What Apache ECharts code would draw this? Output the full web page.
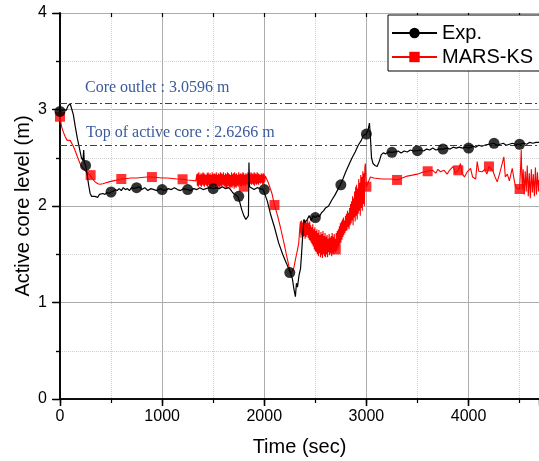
<!DOCTYPE html>
<html><head><meta charset="utf-8">
<script src="https://cdn.jsdelivr.net/npm/echarts@6/dist/echarts.min.js"></script>
<style>html,body{margin:0;padding:0;background:#fff}#c{width:539px;height:461px}</style>
</head><body><div id="c"></div>
<script>
// ---- Data ----
const xTickLabels = ['0', '1000', '2000', '3000', '4000'];
const yTickLabels = ['0', '1', '2', '3', '4'];

const coreOutlet = 3.0596;
const topActiveCore = 2.6266;

const expTime = [0,20,40,60,80,100,115,130,150,170,190,210,225,232,238,250,265,280,295,310,325,340,355,370,385,400,420,440,460,480,500,520,540,560,580,600,620,640,660,680,700,720,750,780,800,830,860,890,920,950,980,1000,1030,1060,1090,1120,1150,1180,1210,1250,1280,1310,1340,1370,1400,1430,1460,1500,1530,1560,1590,1620,1650,1670,1690,1710,1740,1760,1780,1800,1820,1835,1845,1850,1856,1870,1900,1930,1960,1990,2005,2030,2060,2100,2140,2180,2220,2250,2275,2290,2305,2315,2325,2340,2355,2365,2372,2380,2390,2400,2420,2440,2460,2480,2500,2520,2540,2560,2580,2600,2630,2660,2690,2720,2745,2770,2800,2830,2860,2890,2920,2950,2970,2997,3015,3030,3040,3050,3065,3085,3105,3125,3145,3165,3190,3215,3252,3280,3310,3340,3370,3400,3430,3460,3497,3530,3560,3590,3620,3650,3680,3710,3752,3790,3820,3850,3880,3910,3940,3970,4003,4040,4070,4100,4130,4160,4200,4248,4280,4310,4340,4370,4400,4430,4460,4500,4540,4570,4600,4630,4660,4690];
const expLevel = [2.98,2.99,3.00,2.99,3.04,3.06,3.04,2.95,2.82,2.70,2.60,2.50,2.47,2.58,2.45,2.42,2.33,2.22,2.13,2.10,2.12,2.10,2.11,2.09,2.12,2.11,2.13,2.12,2.14,2.13,2.145,2.15,2.17,2.16,2.18,2.16,2.19,2.17,2.18,2.16,2.19,2.18,2.19,2.20,2.17,2.19,2.16,2.18,2.17,2.16,2.18,2.17,2.16,2.18,2.17,2.19,2.17,2.16,2.18,2.17,2.16,2.18,2.17,2.19,2.17,2.18,2.19,2.18,2.19,2.18,2.20,2.18,2.19,2.17,2.14,2.12,2.10,2.04,1.96,1.90,1.86,1.84,1.90,2.45,2.20,2.18,2.17,2.19,2.18,2.17,2.17,2.05,1.92,1.78,1.62,1.50,1.40,1.32,1.25,1.14,1.06,1.20,1.16,1.28,1.35,1.50,1.62,1.75,1.86,1.83,1.86,1.90,1.85,1.90,1.88,1.90,1.89,1.93,1.95,1.98,2.00,2.06,2.11,2.17,2.22,2.28,2.36,2.43,2.50,2.56,2.63,2.68,2.73,2.745,2.78,2.86,2.70,2.50,2.44,2.42,2.41,2.46,2.53,2.55,2.54,2.56,2.556,2.56,2.57,2.55,2.57,2.56,2.58,2.57,2.573,2.58,2.57,2.59,2.58,2.60,2.58,2.59,2.59,2.60,2.59,2.61,2.60,2.61,2.60,2.61,2.60,2.62,2.61,2.63,2.62,2.63,2.64,2.65,2.63,2.64,2.65,2.63,2.64,2.65,2.64,2.64,2.65,2.64,2.66,2.65,2.66,2.66];

const expMarkerTime = [0,250,500,750,1000,1250,1500,1750,2000,2250,2500,2750,3000,3250,3500,3750,4000,4250,4500];
const expMarkerLevel = [2.98,2.42,2.145,2.19,2.17,2.17,2.18,2.10,2.17,1.31,1.88,2.22,2.745,2.556,2.573,2.59,2.60,2.65,2.64];

const marsTime = [0,16,35,50,70,82,100,110,130,150,170,196,220,250,270,294,320,343,370,392,420,450,480,520,560,600,650,700,750,800,850,900,950,1000,1050,1100,1150,1200,1250,1300,1330,
1340,1345,1350,1355,1360,1365,1370,1375,1380,1385,1390,1395,1400,1405,1410,1415,1420,1425,1430,1435,1440,1445,1450,1455,1460,1465,1470,1475,1480,1485,1490,1495,1500,1505,1510,1515,1520,1525,1530,1535,1540,1545,1550,1555,1560,1565,1570,1575,1580,1585,1590,1595,1600,1605,1610,1615,1620,1625,1630,1635,1640,1645,1650,1655,1660,1665,1670,1675,1680,1685,1690,1695,1700,1705,1710,1715,1720,1725,1730,1735,1740,1745,1750,1755,1760,1765,1770,1775,1780,1785,1790,1795,1800,1805,1810,1815,1820,1825,1830,1835,1840,1845,1850,1855,1860,1865,1870,1875,1880,1885,1890,1895,1900,1905,1910,1915,1920,1925,1930,1935,1940,1945,1950,1955,1960,1965,1970,1975,1980,1985,1990,1995,2000,2005,2010,
2020,2042,2075,2100,2130,2157,2190,2222,2245,2262,2271,2290,2304,2320,2337,2350,
2355,2360,2365,2370,2375,2380,2385,2390,2395,2400,2405,2410,2415,2420,2425,2430,2435,2440,2445,2450,2455,2460,2465,2470,2475,2480,2485,2490,2495,2500,2505,2510,2515,2520,2525,2530,2535,2540,2545,2550,2555,2560,2565,2570,2575,2580,2585,2590,2595,2600,2605,2610,2615,2620,2625,2630,2635,2640,2645,2650,2655,2660,2665,2670,2675,2680,2685,2690,2695,2700,2705,2710,2715,2720,2725,2730,2735,2740,2745,2750,2755,2760,2765,2770,2775,2780,2785,2790,2795,2800,2805,2810,2815,2820,2825,2830,2835,2840,2845,2850,2855,2860,2865,2870,2875,2880,2885,2890,2895,2900,2905,2910,2915,2920,2925,2930,2935,2940,2945,2950,2955,2960,2965,2970,2975,2980,2985,2990,3000,
3039,3072,3150,3235,3300,3350,3400,3450,3497,3550,3600,3650,3680,3700,3725,3760,3790,3814,3850,3870,3900,3921,3935,3960,3985,4020,4040,4052,4070,4085,4100,4134,4160,4180,4200,4216,4240,4260,4281,4300,4320,4346,4360,4380,4400,4428,4445,4460,4480,
4500,4510,4516,4525,4535,4545,4555,4565,4575,4585,4595,4605,4615,4625,4635,4645,4655,4665,4675,4685,4690];
const marsLevel = [2.925,2.82,2.76,2.72,2.68,2.66,2.68,2.67,2.62,2.57,2.51,2.44,2.40,2.36,2.34,2.32,2.28,2.25,2.23,2.225,2.23,2.24,2.25,2.26,2.27,2.28,2.285,2.29,2.29,2.295,2.30,2.30,2.295,2.29,2.29,2.285,2.28,2.277,2.27,2.265,2.26,
2.33,2.21,2.34,2.20,2.35,2.22,2.32,2.21,2.34,2.20,
2.33,2.22,2.35,2.21,2.34,2.20,2.33,2.22,2.32,2.21,
2.34,2.20,2.35,2.22,2.33,2.21,2.34,2.19,2.32,2.21,
2.35,2.20,2.33,2.22,2.34,2.21,2.33,2.20,2.35,2.22,
2.32,2.21,2.34,2.20,2.33,2.19,2.35,2.21,2.34,2.20,
2.33,2.22,2.35,2.21,2.32,2.20,2.34,2.19,2.33,2.18,
2.35,2.21,2.34,2.20,2.33,2.18,2.32,2.20,2.35,2.19,
2.33,2.21,2.34,2.18,2.35,2.20,2.33,2.19,2.34,2.21,
2.32,2.20,2.35,2.22,2.33,2.21,2.34,2.20,2.33,2.22,
2.35,2.21,2.34,2.22,2.32,2.21,2.34,2.23,2.33,2.22,
2.35,2.21,2.34,2.22,2.33,2.23,2.35,2.22,2.34,2.23,
2.33,2.22,2.35,2.21,2.34,2.23,2.33,2.22,2.35,2.23,
2.34,2.22,2.33,2.24,2.32,2.23,2.34,2.24,2.33,2.22,
2.34,2.23,2.33,2.25,2.31,
2.30,2.235,2.13,2.01,1.90,1.785,1.63,1.47,1.36,1.30,1.285,1.36,1.44,1.52,1.61,1.80,
1.84,1.67,1.85,1.70,1.83,1.68,1.86,1.69,1.84,1.66,
1.85,1.68,1.83,1.70,1.86,1.67,1.82,1.65,1.84,1.64,
1.80,1.62,1.78,1.60,1.81,1.58,1.76,1.55,1.78,1.53,
1.74,1.52,1.76,1.50,1.72,1.48,1.75,1.51,1.70,1.47,
1.73,1.49,1.71,1.46,1.74,1.50,1.69,1.48,1.72,1.47,
1.68,1.50,1.70,1.47,1.66,1.52,1.71,1.49,1.67,1.51,
1.69,1.48,1.72,1.52,1.68,1.50,1.71,1.53,1.66,1.52,
1.72,1.54,1.74,1.56,1.76,1.58,1.79,1.60,1.82,1.62,
1.84,1.65,1.86,1.68,1.88,1.70,1.85,1.72,1.90,1.74,
1.92,1.75,1.95,1.78,1.93,1.76,1.98,1.80,2.02,1.82,
2.05,1.85,2.10,1.80,2.08,1.88,2.15,1.84,2.20,1.90,
2.22,1.86,2.18,1.92,2.28,1.95,2.24,1.90,2.32,1.98,
2.30,1.95,2.36,2.02,2.34,2.00,2.40,2.44,2.20,
2.30,2.29,2.28,2.28,2.27,2.29,2.31,2.32,2.33,2.35,2.36,2.37,2.34,2.38,2.355,2.37,2.33,2.37,2.41,2.34,2.37,2.44,2.34,2.30,2.35,2.39,2.30,2.32,2.28,2.46,2.36,2.355,2.38,2.33,2.41,2.41,2.36,2.30,2.25,2.32,2.40,2.51,2.30,2.33,2.26,2.39,2.28,2.20,2.18,
2.176,2.40,2.58,2.17,2.38,2.12,2.36,2.15,2.42,2.10,2.34,2.08,2.38,2.14,2.33,2.10,2.40,2.12,2.35,2.15,2.27];

const marsMarkerTime = [0,300,600,900,1200,1500,1800,2100,2400,2700,3000,3300,3600,3900,4200,4500];
const marsMarkerLevel = [2.925,2.32,2.28,2.30,2.277,2.27,2.20,2.01,1.77,1.55,2.20,2.27,2.36,2.37,2.41,2.176];

// ---- Chart ----
const pair = (t, v) => t.map((x, i) => [x, v[i]]);
const chart = echarts.init(document.getElementById('c'), null, {renderer: 'canvas'});
const FONT = '"Liberation Sans", Arial, sans-serif';
const GRID = {left: 60, right: 0, top: 13, bottom: 62, containLabel: false, outerBoundsMode: 'none'};
const XMAX = 4690;

const option = {
  animation: false,
  backgroundColor: '#fff',
  textStyle: {fontFamily: FONT, color: '#000'},
  grid: [Object.assign({}, GRID), Object.assign({}, GRID)],
  legend: {
    data: ['Exp.', 'MARS-KS'],
    orient: 'vertical',
    left: 388, top: 15,
    itemWidth: 45, itemHeight: 13, itemGap: 4,
    padding: [8, 8, 4, 3],
    borderColor: '#000', borderWidth: 1, borderRadius: 0,
    backgroundColor: '#fff',
    textStyle: {fontSize: 20, color: '#000', fontFamily: FONT},
    selectedMode: false
  },
  xAxis: [
    { // main bottom axis, major 1000
      gridIndex: 0, type: 'value', position: 'bottom', min: 0, max: XMAX, interval: 1000,
      name: 'Time (sec)', nameLocation: 'middle', nameGap: 38, nameMoveOverlap: false,
      nameTextStyle: {fontSize: 20, color: '#000', fontFamily: FONT},
      axisLine: {lineStyle: {color: '#000', width: 1.6}},
      axisTick: {inside: false, length: 7, lineStyle: {color: '#000', width: 1.3}},
      axisLabel: {fontSize: 16, color: '#000', margin: 10, showMaxLabel: false,
        formatter: v => (xTickLabels.indexOf(String(v)) >= 0 ? String(v) : '')},
      splitLine: {show: true, lineStyle: {color: '#acacac', width: 1}}
    },
    { // top frame axis, major 1000
      gridIndex: 0, type: 'value', position: 'top', min: 0, max: XMAX, interval: 1000,
      axisLine: {lineStyle: {color: '#000', width: 1.6}},
      axisTick: {inside: true, length: 7, lineStyle: {color: '#000', width: 1.3}},
      axisLabel: {show: false}, splitLine: {show: false}
    },
    { // minor 500 bottom
      gridIndex: 1, type: 'value', position: 'bottom', min: 0, max: XMAX, interval: 500,
      axisLine: {show: false},
      axisTick: {inside: false, length: 4, lineStyle: {color: '#000', width: 1.2}},
      axisLabel: {show: false},
      splitLine: {show: true, lineStyle: {color: ['rgba(0,0,0,0)', '#cfcfcf'], type: 'dotted', width: 1}}
    },
    { // minor 500 top
      gridIndex: 1, type: 'value', position: 'top', min: 0, max: XMAX, interval: 500,
      axisLine: {show: false},
      axisTick: {inside: true, length: 4, lineStyle: {color: '#000', width: 1.2}},
      axisLabel: {show: false}, splitLine: {show: false}
    }
  ],
  yAxis: [
    {
      gridIndex: 0, type: 'value', position: 'left', min: 0, max: 4, interval: 1,
      name: 'Active core level (m)', nameLocation: 'middle', nameGap: 27, nameMoveOverlap: false,
      nameTextStyle: {fontSize: 20, color: '#000', fontFamily: FONT},
      axisLine: {lineStyle: {color: '#000', width: 1.6}},
      axisTick: {inside: false, length: 8, lineStyle: {color: '#000', width: 1.3}},
      minorTick: {show: true, splitNumber: 2, length: 4, lineStyle: {color: '#000', width: 1.2}},
      axisLabel: {fontSize: 16, color: '#000', margin: 13,
        formatter: v => (yTickLabels.indexOf(String(v)) >= 0 ? String(v) : '')},
      splitLine: {show: true, lineStyle: {color: '#acacac', width: 1}},
      minorSplitLine: {show: true, lineStyle: {color: '#cfcfcf', type: 'dotted', width: 1}}
    },
    {
      gridIndex: 0, type: 'value', position: 'right', min: 0, max: 4, interval: 1,
      axisLine: {lineStyle: {color: '#000', width: 1.6}},
      axisTick: {inside: true, length: 7, lineStyle: {color: '#000', width: 1.3}},
      minorTick: {show: true, splitNumber: 2, length: 4, lineStyle: {color: '#000', width: 1.2}},
      axisLabel: {show: false}, splitLine: {show: false}
    },
    {gridIndex: 1, type: 'value', min: 0, max: 4, show: false}
  ],
  series: [
    {
      name: 'MARS-KS', type: 'line', xAxisIndex: 0, yAxisIndex: 0,
      data: pair(marsTime, marsLevel),
      symbol: 'rect', symbolSize: 10, showSymbol: false,
      lineStyle: {color: '#ff0000', width: 1.1}, itemStyle: {color: '#ff0000'},
      z: 2, silent: true
    },
    {
      type: 'scatter', xAxisIndex: 0, yAxisIndex: 0,
      data: pair(marsMarkerTime, marsMarkerLevel),
      symbol: 'rect', symbolSize: 10, itemStyle: {color: '#ff0000'}, z: 3, silent: true
    },
    {
      name: 'Exp.', type: 'line', xAxisIndex: 0, yAxisIndex: 0,
      data: pair(expTime, expLevel),
      symbol: 'circle', symbolSize: 11, showSymbol: false,
      lineStyle: {color: '#000', width: 1.2}, itemStyle: {color: '#000'},
      z: 4, silent: true,
      markLine: {
        silent: true, symbol: 'none', animation: false,
        label: {show: false},
        lineStyle: {color: '#2a36a8', width: 1, type: [7, 3, 2, 3]},
        data: [{yAxis: coreOutlet}, {yAxis: topActiveCore}]
      }
    },
    {
      type: 'scatter', xAxisIndex: 0, yAxisIndex: 0,
      data: pair(expMarkerTime, expMarkerLevel),
      symbol: 'circle', symbolSize: 11, itemStyle: {color: '#000'}, z: 5, silent: true
    }
  ]
};
chart.setOption(option);

// Annotation texts anchored in data coordinates
const ann = [
  {text: 'Core outlet : ' + coreOutlet + ' m', at: [245, 3.22]},
  {text: 'Top of active core : ' + topActiveCore + ' m', at: [255, 2.756]}
];
chart.setOption({
  graphic: ann.map(a => {
    const p = chart.convertToPixel({xAxisIndex: 0, yAxisIndex: 0}, a.at);
    return {type: 'text', x: p[0], y: p[1], z: 10, silent: true,
      style: {text: a.text, fill: '#3b5a9c', font: '16px "Liberation Serif", "Times New Roman", serif',
        textVerticalAlign: 'middle', verticalAlign: 'middle'}};
  })
});
</script></body></html>
